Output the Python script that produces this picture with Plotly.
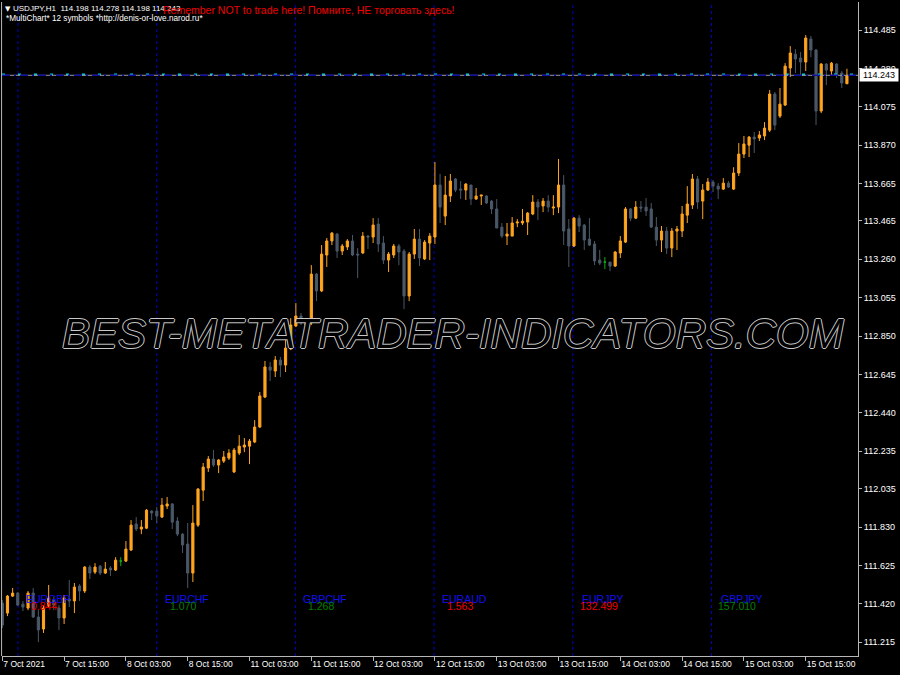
import plotly.graph_objects as go

# ---------------- data ----------------
header_symbol = "USDJPY,H1  114.198 114.278 114.198 114.243"
header_sub = "*MultiChart* 12 symbols *http://denis-or-love.narod.ru*"
header_warning = "Remember NOT to trade here! Помните, НЕ торговать здесь!"
watermark = "BEST-METATRADER-INDICATORS.COM"

opens = [111.424, 111.370, 111.461, 111.477, 111.418, 111.397, 111.477, 111.349, 111.285, 111.408,
         111.440, 111.397, 111.344, 111.445, 111.435, 111.515, 111.488, 111.616, 111.589, 111.621,
         111.584, 111.611, 111.600, 111.648, 111.648, 111.707, 111.846, 111.819, 111.824, 111.915,
         111.915, 111.883, 111.942, 111.953, 111.862, 111.792, 111.739, 111.584, 111.840, 112.027,
         112.145, 112.193, 112.161, 112.182, 112.198, 112.124, 112.225, 112.257, 112.262, 112.284,
         112.364, 112.524, 112.685, 112.663, 112.722, 112.695, 112.781, 112.904, 112.957, 112.909,
         112.920, 113.181, 113.091, 113.283, 113.358, 113.395, 113.304, 113.326, 113.358, 113.288,
         113.294, 113.384, 113.379, 113.448, 113.347, 113.256, 113.283, 113.331, 113.304, 113.064,
         113.288, 113.368, 113.262, 113.347, 113.379, 113.657, 113.491, 113.598, 113.689, 113.635,
         113.630, 113.657, 113.582, 113.598, 113.598, 113.571, 113.529, 113.432, 113.384, 113.384,
         113.454, 113.454, 113.459, 113.502, 113.566, 113.545, 113.571, 113.534, 113.539, 113.657,
         113.422, 113.331, 113.480, 113.443, 113.368, 113.342, 113.256, 113.245, 113.245, 113.224,
         113.294, 113.352, 113.529, 113.480, 113.539, 113.539, 113.529, 113.432, 113.363, 113.411,
         113.320, 113.411, 113.411, 113.496, 113.550, 113.689, 113.571, 113.630, 113.673, 113.651,
         113.635, 113.667, 113.635, 113.721, 113.822, 113.870, 113.913, 113.908, 113.919, 113.950,
         114.143, 114.025, 114.084, 114.282, 114.356, 114.335, 114.314, 114.437, 114.378, 114.052,
         114.303, 114.266, 114.303, 114.255, 114.198]
highs = [111.440, 111.467, 111.504, 111.483, 111.435, 111.488, 111.504, 111.386, 111.413, 111.520,
         111.456, 111.413, 111.467, 111.547, 111.531, 111.525, 111.621, 111.627, 111.637, 111.627,
         111.643, 111.621, 111.669, 111.669, 111.755, 111.867, 111.883, 111.867, 111.926, 111.920,
         111.937, 111.985, 111.990, 111.958, 111.883, 111.797, 111.851, 111.947, 112.038, 112.172,
         112.209, 112.241, 112.193, 112.236, 112.246, 112.252, 112.321, 112.305, 112.300, 112.401,
         112.551, 112.717, 112.711, 112.743, 112.738, 112.829, 112.946, 113.026, 112.973, 112.946,
         113.229, 113.187, 113.336, 113.374, 113.406, 113.400, 113.342, 113.368, 113.390, 113.320,
         113.406, 113.390, 113.480, 113.480, 113.384, 113.299, 113.342, 113.342, 113.315, 113.299,
         113.422, 113.422, 113.363, 113.400, 113.780, 113.716, 113.705, 113.716, 113.694, 113.678,
         113.667, 113.657, 113.641, 113.603, 113.603, 113.577, 113.582, 113.454, 113.454, 113.486,
         113.475, 113.529, 113.512, 113.603, 113.582, 113.587, 113.603, 113.603, 113.796, 113.710,
         113.475, 113.486, 113.496, 113.448, 113.480, 113.358, 113.310, 113.272, 113.245, 113.304,
         113.384, 113.539, 113.534, 113.571, 113.571, 113.587, 113.561, 113.486, 113.438, 113.432,
         113.427, 113.438, 113.545, 113.651, 113.716, 113.705, 113.662, 113.694, 113.683, 113.667,
         113.694, 113.678, 113.752, 113.881, 113.919, 113.919, 113.940, 113.945, 113.993, 114.164,
         114.154, 114.175, 114.308, 114.399, 114.383, 114.367, 114.458, 114.453, 114.383, 114.308,
         114.308, 114.314, 114.308, 114.266, 114.278]
lows = [111.290, 111.354, 111.456, 111.408, 111.381, 111.386, 111.344, 111.215, 111.264, 111.402,
        111.386, 111.280, 111.312, 111.402, 111.370, 111.435, 111.477, 111.552, 111.579, 111.573,
        111.579, 111.568, 111.595, 111.621, 111.643, 111.702, 111.808, 111.792, 111.819, 111.867,
        111.851, 111.878, 111.926, 111.819, 111.781, 111.691, 111.504, 111.536, 111.830, 111.969,
        112.124, 112.150, 112.118, 112.172, 112.188, 112.118, 112.214, 112.230, 112.166, 112.278,
        112.359, 112.519, 112.610, 112.631, 112.631, 112.658, 112.775, 112.898, 112.909, 112.898,
        112.909, 113.037, 113.085, 113.219, 113.336, 113.267, 113.283, 113.310, 113.277, 113.160,
        113.288, 113.315, 113.347, 113.299, 113.235, 113.192, 113.267, 113.229, 112.994, 113.037,
        113.262, 113.224, 113.256, 113.256, 113.342, 113.454, 113.443, 113.566, 113.619, 113.582,
        113.577, 113.550, 113.577, 113.550, 113.555, 113.502, 113.427, 113.374, 113.336, 113.384,
        113.432, 113.443, 113.390, 113.496, 113.470, 113.512, 113.512, 113.496, 113.507, 113.336,
        113.219, 113.326, 113.406, 113.310, 113.331, 113.229, 113.229, 113.208, 113.197, 113.219,
        113.267, 113.347, 113.464, 113.475, 113.512, 113.491, 113.427, 113.331, 113.299, 113.288,
        113.272, 113.310, 113.379, 113.454, 113.529, 113.529, 113.475, 113.625, 113.619, 113.582,
        113.630, 113.641, 113.630, 113.705, 113.801, 113.806, 113.828, 113.892, 113.897, 113.940,
        113.950, 114.015, 114.079, 114.234, 114.255, 114.244, 114.266, 114.340, 113.977, 114.041,
        114.191, 114.244, 114.228, 114.175, 114.196]
closes = [111.306, 111.461, 111.477, 111.413, 111.402, 111.477, 111.349, 111.280, 111.397, 111.451,
          111.413, 111.344, 111.451, 111.435, 111.509, 111.488, 111.616, 111.584, 111.616, 111.584,
          111.605, 111.600, 111.653, 111.648, 111.712, 111.840, 111.819, 111.830, 111.920, 111.905,
          111.889, 111.947, 111.953, 111.856, 111.792, 111.734, 111.584, 111.851, 112.033, 112.150,
          112.193, 112.161, 112.188, 112.204, 112.225, 112.241, 112.262, 112.268, 112.289, 112.364,
          112.530, 112.685, 112.668, 112.722, 112.695, 112.786, 112.909, 112.957, 112.920, 112.925,
          113.181, 113.091, 113.288, 113.358, 113.400, 113.304, 113.331, 113.358, 113.283, 113.283,
          113.384, 113.379, 113.443, 113.342, 113.256, 113.288, 113.331, 113.299, 113.064, 113.288,
          113.368, 113.267, 113.352, 113.384, 113.657, 113.539, 113.603, 113.678, 113.630, 113.630,
          113.662, 113.582, 113.598, 113.603, 113.561, 113.529, 113.427, 113.384, 113.395, 113.454,
          113.459, 113.464, 113.507, 113.566, 113.539, 113.571, 113.539, 113.539, 113.657, 113.411,
          113.331, 113.480, 113.438, 113.363, 113.336, 113.251, 113.240, 113.245, 113.224, 113.299,
          113.358, 113.529, 113.480, 113.539, 113.534, 113.518, 113.432, 113.363, 113.411, 113.320,
          113.411, 113.422, 113.502, 113.555, 113.689, 113.566, 113.630, 113.673, 113.651, 113.635,
          113.667, 113.646, 113.721, 113.822, 113.876, 113.913, 113.903, 113.924, 113.961, 114.143,
          113.977, 114.089, 114.292, 114.362, 114.330, 114.314, 114.442, 114.378, 114.052, 114.303,
          114.271, 114.308, 114.244, 114.202, 114.243]

x_tick_text = ["7 Oct 2021", "7 Oct 15:00", "8 Oct 03:00", "8 Oct 15:00", "11 Oct 03:00",
               "11 Oct 15:00", "12 Oct 03:00", "12 Oct 15:00", "13 Oct 03:00", "13 Oct 15:00",
               "14 Oct 03:00", "14 Oct 15:00", "15 Oct 03:00", "15 Oct 15:00"]
bars_per_tick = 12
y_tick_vals = [114.485, 114.280, 114.075, 113.870, 113.665, 113.465, 113.260, 113.055, 112.850,
               112.645, 112.440, 112.235, 112.035, 111.830, 111.625, 111.420, 111.215]

pair_names = ["EURGBP", "EURCHF", "GBPCHF", "EURAUD", "EURJPY", "GBPJPY"]
pair_values = ["0.844", "1.070", "1.268", "1.563", "132.499", "157.010"]
pair_up = [False, True, True, False, False, True]

current_price = 114.243
indicator_level = 114.247

# ---------------- styles ----------------
BULL = "#FFA51F"
BEAR = "#4A5868"
DOJI = "#10B010"
AXIS = "#B8B8B8"
SANS = "Liberation Sans, Arial, sans-serif"

x_lo, x_hi = -0.06, 166.15
y_lo, y_hi = 111.1409, 114.6346
sep_first, sep_step = 3.05, 26.93

idx = list(range(len(opens)))
main_i = [i for i in idx if opens[i] != closes[i]]
doji_i = [i for i in idx if opens[i] == closes[i]]

fig = go.Figure()
fig.add_trace(go.Candlestick(
    x=main_i,
    open=[opens[i] for i in main_i], high=[highs[i] for i in main_i],
    low=[lows[i] for i in main_i], close=[closes[i] for i in main_i],
    increasing=dict(line=dict(color=BULL, width=1), fillcolor=BULL),
    decreasing=dict(line=dict(color=BEAR, width=1), fillcolor=BEAR),
    whiskerwidth=0, hoverinfo="skip", showlegend=False))
fig.add_trace(go.Candlestick(
    x=doji_i,
    open=[opens[i] for i in doji_i], high=[highs[i] for i in doji_i],
    low=[lows[i] for i in doji_i], close=[closes[i] for i in doji_i],
    increasing=dict(line=dict(color=DOJI, width=1), fillcolor=DOJI),
    decreasing=dict(line=dict(color=DOJI, width=1), fillcolor=DOJI),
    whiskerwidth=0, hoverinfo="skip", showlegend=False))

# indicator line (navy dash-dot + cyan dashes) and price line
fig.add_trace(go.Scatter(x=[x_lo, x_hi], y=[indicator_level, indicator_level], mode="lines",
                         line=dict(color="#00D0D0", width=2, dash="3px,13px"),
                         hoverinfo="skip", showlegend=False))
fig.add_trace(go.Scatter(x=[x_lo, x_hi], y=[current_price, current_price], mode="lines",
                         line=dict(color="#9A9A9A", width=1), hoverinfo="skip", showlegend=False))
fig.add_trace(go.Scatter(x=[x_lo, x_hi], y=[current_price, current_price], mode="lines",
                         line=dict(color="#1010A0", width=1.5, dash="8px,4px,2px,4px"),
                         hoverinfo="skip", showlegend=False))

shapes = []
annotations = []
for k, (name, val, up) in enumerate(zip(pair_names, pair_values, pair_up)):
    sx = sep_first + k * sep_step
    shapes.append(dict(type="line", xref="x", yref="paper", x0=sx, x1=sx, y0=0, y1=1,
                       layer="below", line=dict(color="#0000C8", width=1, dash="dot")))
    annotations.append(dict(xref="x", yref="paper", x=sx + 5.83, y=0.0879, text=name,
                            showarrow=False, xanchor="center", yanchor="middle",
                            font=dict(family=SANS, size=10.5, color="#1010F0")))
    annotations.append(dict(xref="x", yref="paper", x=sx + 5.05, y=0.0757, text=val,
                            showarrow=False, xanchor="center", yanchor="middle",
                            font=dict(family=SANS, size=10.5,
                                      color="#008000" if up else "#F00000")))

# left frame line
shapes.append(dict(type="line", xref="paper", yref="paper", x0=-0.0005, x1=-0.0005, y0=0, y1=1,
                   line=dict(color=AXIS, width=1)))

# header texts
annotations += [
    dict(xref="paper", yref="paper", x=(3 - 2) / 856, y=(656 - 8.5) / 654, text="▼",
         showarrow=False, xanchor="left", yanchor="middle",
         font=dict(family="DejaVu Sans", size=7, color="white")),
    dict(xref="paper", yref="paper", x=(11 - 2) / 856, y=(656 - 8.5) / 654, text=header_symbol,
         showarrow=False, xanchor="left", yanchor="middle",
         font=dict(family=SANS, size=8, color="white")),
    dict(xref="paper", yref="paper", x=(4 - 2) / 856, y=(656 - 18.5) / 654, text=header_sub,
         showarrow=False, xanchor="left", yanchor="middle",
         font=dict(family=SANS, size=8.2, color="white")),
    dict(xref="paper", yref="paper", x=(161 - 2) / 856, y=(656 - 10) / 654, text=header_warning,
         showarrow=False, xanchor="left", yanchor="middle",
         font=dict(family=SANS, size=10.5, color="#F00000")),
    dict(xref="paper", yref="paper", x=(453 - 2) / 856, y=(656 - 333) / 654, text=watermark,
         showarrow=False, xanchor="center", yanchor="middle",
         font=dict(family=SANS, size=42, color="black", style="italic",
                   shadow="1px 0 0 #C8C8C8, -1px 0 0 #C8C8C8, 0 1px 0 #C8C8C8, 0 -1px 0 #C8C8C8")),
    dict(xref="paper", yref="y", x=1, y=current_price, text=str(current_price),
         showarrow=False, xanchor="left", yanchor="middle", xshift=1,
         bgcolor="white", borderpad=1, width=36,
         font=dict(family=SANS, size=9, color="black")),
]

fig.update_layout(
    width=900, height=675,
    margin=dict(l=2, r=42, t=2, b=19),
    paper_bgcolor="black", plot_bgcolor="black",
    boxgap=0.4,
    shapes=shapes, annotations=annotations,
    xaxis=dict(range=[x_lo, x_hi], rangeslider=dict(visible=False), automargin=False,
               tickmode="array", tickvals=[i * bars_per_tick for i in range(len(x_tick_text))],
               ticktext=x_tick_text, ticks="outside", ticklen=4, tickcolor=AXIS,
               tickangle=0, ticklabelposition="outside right",
               showline=True, linecolor=AXIS, linewidth=1, showgrid=False, zeroline=False,
               tickfont=dict(family=SANS, size=8.5, color="white")),
    yaxis=dict(range=[y_lo, y_hi], side="right", automargin=False,
               tickmode="array", tickvals=y_tick_vals,
               ticktext=[f"{v:.3f}" for v in y_tick_vals], ticks="outside", ticklen=3,
               tickcolor=AXIS, showline=True, linecolor=AXIS, linewidth=1,
               showgrid=False, zeroline=False,
               tickfont=dict(family=SANS, size=9, color="white")),
)

fig.write_html("out.html", config={"displayModeBar": False},
               post_script="document.body.style.margin='0';")
